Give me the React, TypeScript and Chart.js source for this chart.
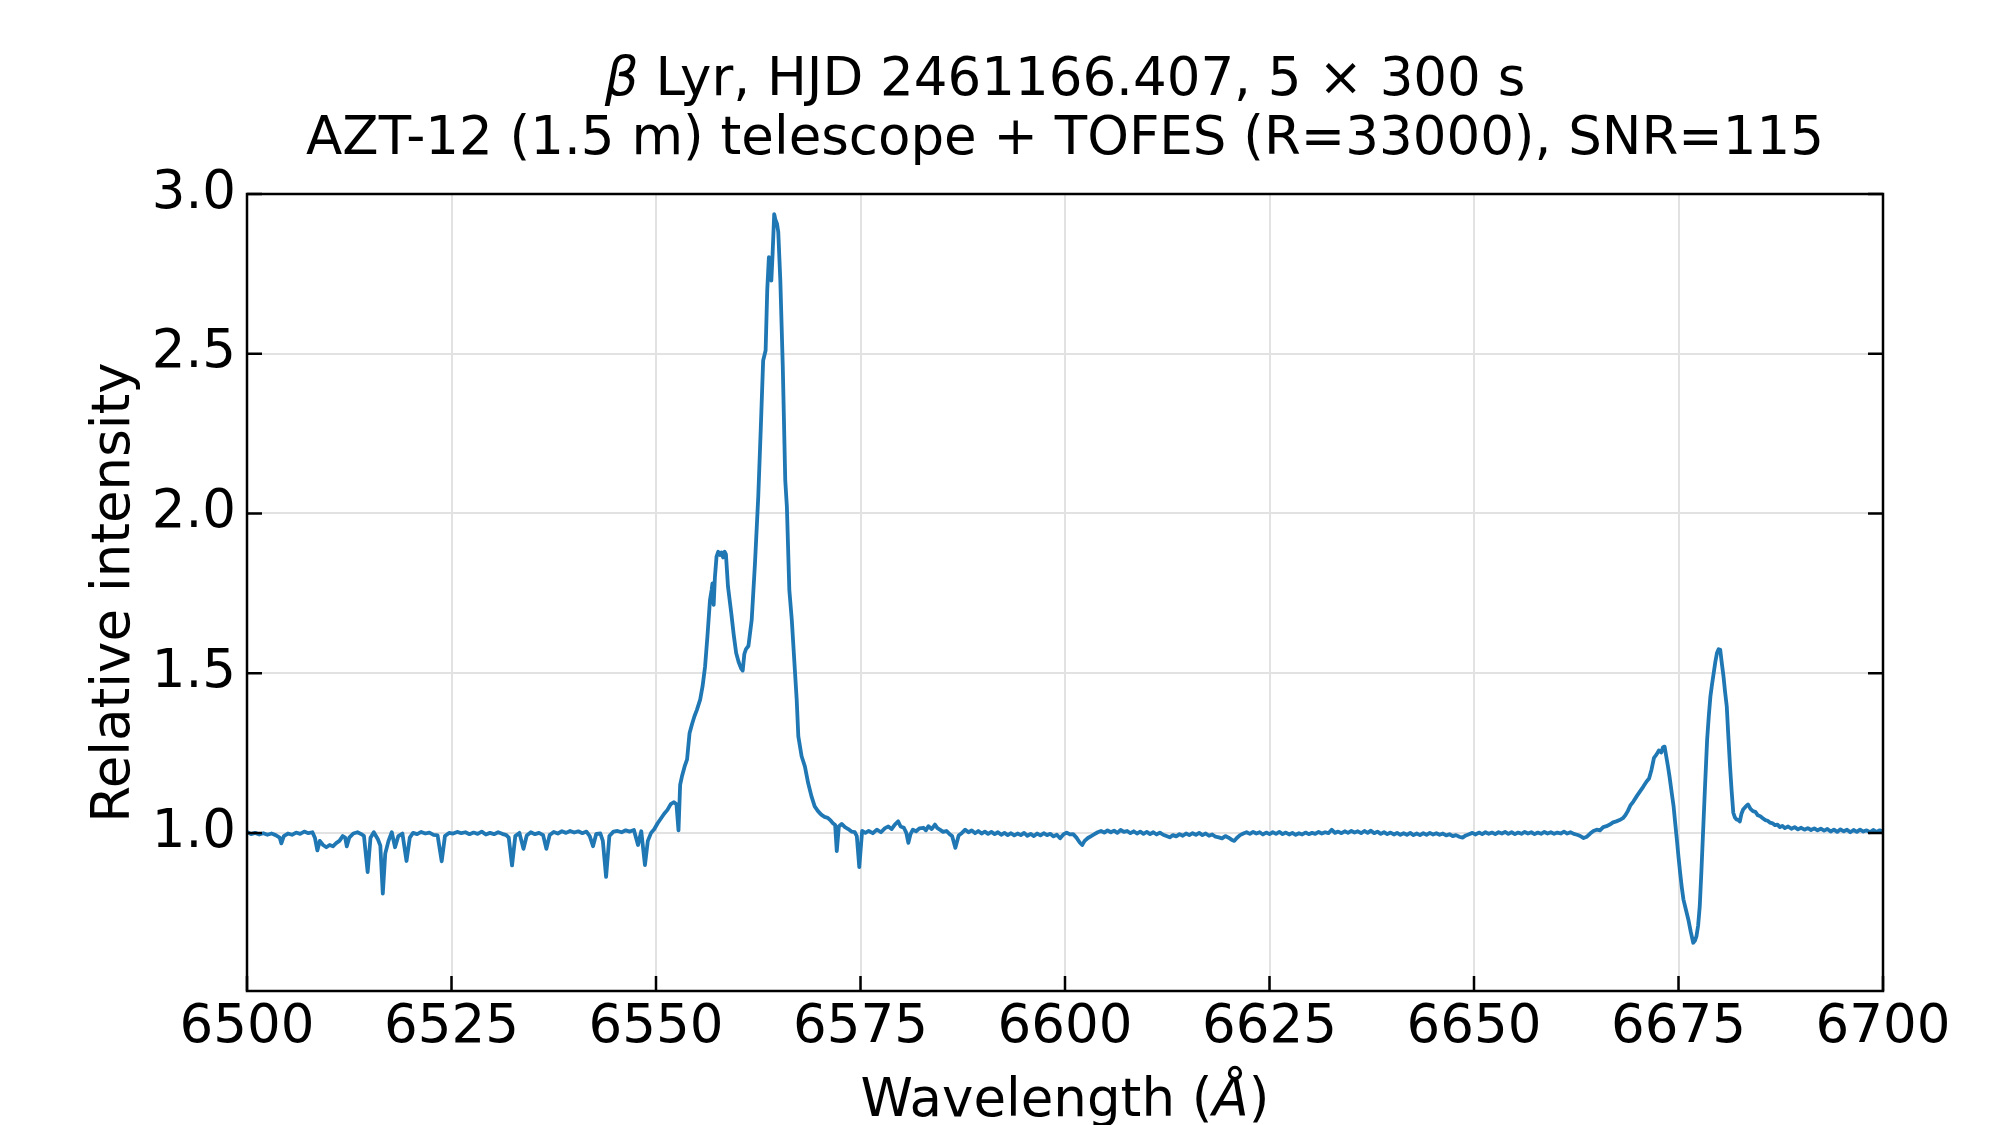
import React, { useEffect, useRef } from "react";
import { Chart, registerables } from "chart.js";

Chart.register(...registerables);

// ---------- text ----------
const titleLine1 = [
  { text: "β", italic: true },
  { text: " Lyr, HJD 2461166.407, 5 × 300 s", italic: false },
];
const titleLine2 = [{ text: "AZT-12 (1.5 m) telescope + TOFES (R=33000), SNR=115", italic: false }];
const xLabel = [
  { text: "Wavelength (", italic: false },
  { text: "Å", italic: true },
  { text: ")", italic: false },
];
const yLabel = "Relative intensity";

// ---------- ticks ----------
const xTicks = [6500, 6525, 6550, 6575, 6600, 6625, 6650, 6675, 6700];
const yTicks = [1.0, 1.5, 2.0, 2.5, 3.0];

// ---------- spectrum ----------
const wavelength = [
  6500.0, 6500.5, 6501.0, 6501.5, 6502.0, 6502.5, 6503.0, 6503.5, 6504.0, 6504.2,
  6504.5, 6505.0, 6505.5, 6506.0, 6506.5, 6507.0, 6507.5, 6508.0, 6508.3, 6508.6,
  6508.9, 6509.3, 6509.7, 6510.1, 6510.5, 6510.9, 6511.3, 6511.7, 6512.0, 6512.2,
  6512.5, 6513.0, 6513.5, 6514.0, 6514.3, 6514.75, 6515.1, 6515.5, 6516.0, 6516.3,
  6516.6, 6516.9, 6517.3, 6517.7, 6518.1, 6518.5, 6519.0, 6519.5, 6519.9, 6520.3,
  6520.8, 6521.3, 6521.8, 6522.3, 6522.8, 6523.3, 6523.8, 6524.2, 6524.7, 6525.2,
  6525.7, 6526.2, 6526.7, 6527.2, 6527.7, 6528.2, 6528.7, 6529.2, 6529.7, 6530.2,
  6530.7, 6531.2, 6531.7, 6532.0, 6532.4, 6532.8, 6533.3, 6533.8, 6534.2, 6534.7,
  6535.2, 6535.7, 6536.2, 6536.6, 6537.0, 6537.5, 6538.0, 6538.5, 6539.0, 6539.5,
  6540.0, 6540.5, 6541.0, 6541.5, 6541.9, 6542.3, 6542.7, 6543.2, 6543.5, 6543.9,
  6544.3, 6544.8, 6545.3, 6545.8, 6546.3, 6546.8, 6547.3, 6547.8, 6548.2, 6548.65,
  6549.0, 6549.4, 6549.8, 6550.2, 6550.6, 6551.0, 6551.4, 6551.8, 6552.2, 6552.5,
  6552.75, 6552.95, 6553.2, 6553.5, 6553.8, 6554.1, 6554.4, 6554.7, 6555.0, 6555.4,
  6555.7, 6556.0, 6556.3, 6556.6, 6556.8, 6556.9, 6557.05, 6557.2, 6557.4, 6557.6,
  6557.8, 6558.0, 6558.2, 6558.4, 6558.55, 6558.8, 6559.0, 6559.2, 6559.5, 6559.8,
  6560.1, 6560.4, 6560.6, 6560.8, 6561.0, 6561.3, 6561.7, 6562.1, 6562.5, 6562.8,
  6563.1, 6563.4, 6563.6, 6563.8, 6563.95, 6564.1, 6564.25, 6564.45, 6564.6, 6564.8,
  6564.95, 6565.2, 6565.5, 6565.8, 6566.0, 6566.3, 6566.6, 6567.0, 6567.2, 6567.4,
  6567.8, 6568.2, 6568.6, 6569.0, 6569.4, 6569.8, 6570.2, 6570.6, 6571.0, 6571.3,
  6571.6, 6571.9, 6572.1, 6572.35, 6572.7, 6573.1, 6573.5, 6573.9, 6574.3, 6574.55,
  6574.85, 6575.2, 6575.6, 6576.0, 6576.5, 6577.0, 6577.5, 6578.0, 6578.4, 6578.8,
  6579.2, 6579.6, 6579.9, 6580.3, 6580.6, 6580.85, 6581.1, 6581.4, 6581.8, 6582.2,
  6582.7, 6583.0, 6583.3, 6583.7, 6584.1, 6584.4, 6584.7, 6585.1, 6585.5, 6585.9,
  6586.2, 6586.6, 6587.0, 6587.4, 6587.8, 6588.2, 6588.6, 6589.0, 6589.4, 6589.8,
  6590.2, 6590.6, 6591.0, 6591.4, 6591.8, 6592.2, 6592.6, 6593.0, 6593.4, 6593.8,
  6594.2, 6594.6, 6595.0, 6595.4, 6595.8, 6596.2, 6596.6, 6597.0, 6597.4, 6597.8,
  6598.2, 6598.6, 6599.0, 6599.4, 6599.8, 6600.2, 6600.6, 6601.0, 6601.4, 6601.8,
  6602.1, 6602.4, 6602.8, 6603.2, 6603.6, 6604.0, 6604.4, 6604.8, 6605.2, 6605.6,
  6606.0, 6606.4, 6606.8, 6607.2, 6607.6, 6608.0, 6608.4, 6608.8, 6609.2, 6609.6,
  6610.0, 6610.4, 6610.8, 6611.2, 6611.6, 6612.0, 6612.4, 6612.8, 6613.2, 6613.6,
  6614.0, 6614.4, 6614.8, 6615.2, 6615.6, 6616.0, 6616.4, 6616.8, 6617.2, 6617.6,
  6618.0, 6618.4, 6618.8, 6619.2, 6619.6, 6620.0, 6620.4, 6620.7, 6621.0, 6621.4,
  6621.8, 6622.2, 6622.6, 6623.0, 6623.4, 6623.8, 6624.2, 6624.6, 6625.0, 6625.4,
  6625.8, 6626.2, 6626.6, 6627.0, 6627.4, 6627.8, 6628.2, 6628.6, 6629.0, 6629.4,
  6629.8, 6630.2, 6630.6, 6631.0, 6631.4, 6631.8, 6632.2, 6632.6, 6633.0, 6633.4,
  6633.8, 6634.2, 6634.6, 6635.0, 6635.4, 6635.8, 6636.2, 6636.6, 6637.0, 6637.4,
  6637.8, 6638.2, 6638.6, 6639.0, 6639.4, 6639.8, 6640.2, 6640.6, 6641.0, 6641.4,
  6641.8, 6642.2, 6642.6, 6643.0, 6643.4, 6643.8, 6644.2, 6644.6, 6645.0, 6645.4,
  6645.8, 6646.2, 6646.6, 6647.0, 6647.4, 6647.8, 6648.2, 6648.6, 6649.0, 6649.4,
  6649.8, 6650.2, 6650.6, 6651.0, 6651.4, 6651.8, 6652.2, 6652.6, 6653.0, 6653.4,
  6653.8, 6654.2, 6654.6, 6655.0, 6655.4, 6655.8, 6656.2, 6656.6, 6657.0, 6657.4,
  6657.8, 6658.2, 6658.6, 6659.0, 6659.4, 6659.8, 6660.2, 6660.6, 6661.0, 6661.4,
  6661.8, 6662.2, 6662.6, 6663.0, 6663.4, 6663.8, 6664.2, 6664.6, 6665.0, 6665.4,
  6665.8, 6666.2, 6666.6, 6667.0, 6667.4, 6667.8, 6668.2, 6668.5, 6668.8, 6669.1,
  6669.5, 6669.9, 6670.3, 6670.7, 6671.1, 6671.4, 6671.7, 6672.0, 6672.3, 6672.6,
  6672.9, 6673.1, 6673.3, 6673.5, 6673.7, 6673.9, 6674.2, 6674.4, 6674.6, 6674.8,
  6675.0, 6675.2, 6675.4, 6675.6, 6675.9, 6676.2, 6676.5, 6676.8, 6677.0, 6677.2,
  6677.4, 6677.6, 6677.8, 6678.0, 6678.25, 6678.5, 6678.7, 6678.9, 6679.1, 6679.3,
  6679.5, 6679.7, 6679.9, 6680.1, 6680.3, 6680.5, 6680.7, 6680.9, 6681.1, 6681.3,
  6681.5, 6681.7, 6681.9, 6682.1, 6682.3, 6682.5, 6682.7, 6682.9, 6683.2, 6683.5,
  6683.8, 6684.1, 6684.4, 6684.7, 6685.0, 6685.3, 6685.6, 6685.9, 6686.2, 6686.5,
  6686.8, 6687.1, 6687.4, 6687.7, 6688.0, 6688.4, 6688.8, 6689.2, 6689.6, 6690.0,
  6690.4, 6690.8, 6691.2, 6691.6, 6692.0, 6692.4, 6692.8, 6693.2, 6693.6, 6694.0,
  6694.4, 6694.8, 6695.2, 6695.6, 6696.0, 6696.4, 6696.8, 6697.2, 6697.6, 6698.0,
  6698.4, 6698.8, 6699.2, 6699.6, 6700.0,
];

const intensity = [
  1.003, 0.996, 1.000, 0.995, 0.999, 0.994, 0.998, 0.993, 0.985, 0.967,
  0.990, 0.998, 0.994, 1.001, 0.997, 1.004, 0.999, 1.002, 0.985, 0.945,
  0.975, 0.962, 0.955, 0.962, 0.958, 0.968, 0.975, 0.990, 0.985, 0.958,
  0.985, 0.998, 1.002, 0.996, 0.990, 0.877, 0.985, 1.002, 0.980, 0.960,
  0.810, 0.935, 0.975, 1.002, 0.955, 0.990, 0.998, 0.912, 0.985, 1.000,
  0.996, 1.003, 0.998, 1.001, 0.994, 0.992, 0.911, 0.990, 1.000, 0.998,
  1.003, 0.999, 1.002, 0.996, 1.001, 0.997, 1.004, 0.995, 1.000, 0.996,
  1.002, 0.997, 0.993, 0.985, 0.898, 0.990, 1.000, 0.950, 0.992, 1.002,
  0.996, 1.000, 0.993, 0.950, 0.993, 1.003, 0.998, 1.005, 1.000, 1.006,
  1.001, 1.005, 0.999, 1.004, 0.990, 0.958, 0.997, 0.998, 0.975, 0.862,
  0.990, 1.004, 1.006, 1.002, 1.008, 1.004, 1.009, 0.962, 1.005, 0.899,
  0.975, 1.000, 1.012, 1.030, 1.045, 1.060, 1.072, 1.090, 1.096, 1.090,
  1.008, 1.150, 1.180, 1.208, 1.230, 1.312, 1.340, 1.365, 1.385, 1.417,
  1.460, 1.521, 1.620, 1.729, 1.760, 1.781, 1.714, 1.800, 1.865, 1.880,
  1.870, 1.878, 1.862, 1.880, 1.872, 1.771, 1.730, 1.688, 1.620, 1.563,
  1.535, 1.515, 1.508, 1.560, 1.575, 1.585, 1.667, 1.844, 2.052, 2.260,
  2.479, 2.510, 2.700, 2.802, 2.740, 2.729, 2.810, 2.937, 2.920, 2.906,
  2.880, 2.729, 2.458, 2.104, 2.021, 1.760, 1.667, 1.500, 1.417, 1.302,
  1.240, 1.208, 1.156, 1.115, 1.083, 1.068, 1.057, 1.050, 1.047, 1.040,
  1.031, 1.025, 0.943, 1.020, 1.028, 1.018, 1.012, 1.004, 1.002, 0.990,
  0.893, 1.006, 1.000, 1.006, 0.999, 1.010, 1.002, 1.015, 1.020, 1.012,
  1.026, 1.036, 1.020, 1.016, 1.000, 0.969, 0.995, 1.010, 1.005, 1.014,
  1.016, 1.008, 1.021, 1.012, 1.026, 1.015, 1.010, 1.003, 1.006, 0.996,
  0.990, 0.953, 0.992, 1.000, 1.010, 1.002, 1.008, 0.999, 1.006, 0.998,
  1.004, 0.997, 1.003, 0.996, 1.002, 0.994, 1.000, 0.993, 0.999, 0.992,
  0.998, 0.993, 1.000, 0.991, 0.997, 0.990, 0.998, 0.992, 0.999, 0.993,
  0.997, 0.989, 0.994, 0.983, 0.995, 1.001, 0.995, 0.996, 0.985, 0.970,
  0.962, 0.975, 0.984, 0.990, 0.996, 1.002, 1.006, 1.001, 1.008, 1.002,
  1.007, 1.000, 1.009, 1.003, 1.006, 0.999, 1.005, 0.998, 1.004, 0.997,
  1.003, 0.996, 1.002, 0.995, 1.001, 0.994, 0.990, 0.986, 0.993, 0.989,
  0.996, 0.991, 0.998, 0.993, 0.999, 0.994, 1.000, 0.993, 0.998, 0.991,
  0.995, 0.988, 0.986, 0.983, 0.990, 0.985, 0.978, 0.975, 0.984, 0.993,
  0.998, 1.002, 0.997, 1.003, 0.998, 1.002, 0.995, 1.001, 0.996, 1.002,
  0.997, 1.003, 0.996, 1.001, 0.995, 1.000, 0.994, 0.999, 0.995, 1.001,
  0.996, 1.000, 0.997, 1.003, 0.998, 1.002, 0.999, 1.010, 1.000, 1.004,
  0.999, 1.005, 1.000, 1.006, 1.001, 1.005, 0.999, 1.006, 1.000, 1.007,
  0.999, 1.004, 0.997, 1.002, 0.996, 1.001, 0.995, 1.000, 0.994, 0.999,
  0.994, 1.000, 0.993, 0.998, 0.993, 0.999, 0.994, 1.000, 0.995, 0.999,
  0.994, 0.998, 0.992, 0.996, 0.990, 0.993, 0.988, 0.985, 0.992, 0.996,
  1.000, 0.995, 1.001, 0.996, 1.002, 0.997, 1.001, 0.996, 1.002, 0.998,
  1.003, 0.997, 1.002, 0.996, 1.001, 0.997, 1.003, 0.998, 1.002, 0.996,
  1.001, 0.997, 1.003, 0.998, 1.002, 0.997, 1.001, 0.998, 1.004, 0.998,
  1.002, 0.997, 0.994, 0.990, 0.984, 0.988, 0.998, 1.006, 1.010, 1.008,
  1.018, 1.021, 1.026, 1.033, 1.036, 1.040, 1.046, 1.055, 1.068, 1.085,
  1.099, 1.115, 1.130, 1.145, 1.161, 1.170, 1.198, 1.235, 1.245, 1.258,
  1.252, 1.268, 1.270, 1.240, 1.210, 1.177, 1.120, 1.083, 1.030, 0.979,
  0.925, 0.875, 0.830, 0.792, 0.760, 0.729, 0.690, 0.656, 0.662, 0.677,
  0.710, 0.771, 0.880, 1.000, 1.150, 1.292, 1.365, 1.427, 1.465, 1.500,
  1.535, 1.563, 1.575, 1.573, 1.530, 1.490, 1.440, 1.396, 1.300, 1.208,
  1.130, 1.063, 1.048, 1.042, 1.040, 1.036, 1.060, 1.073, 1.082, 1.089,
  1.075, 1.068, 1.066, 1.055, 1.052, 1.046, 1.040, 1.038, 1.032, 1.030,
  1.024, 1.026, 1.018, 1.022, 1.015, 1.020, 1.013, 1.018, 1.011, 1.016,
  1.010, 1.015, 1.009, 1.014, 1.008, 1.013, 1.007, 1.012, 1.004, 1.010,
  1.003, 1.011, 1.005, 1.010, 1.002, 1.009, 1.003, 1.010, 1.004, 1.008,
  1.002, 1.009, 1.003, 1.008, 1.004,
];

const FONT = '"DejaVu Sans", "Liberation Sans", sans-serif';
const FONT_SIZE = 53;
const LINE_COLOR = "#1f77b4";
const GRID_COLOR = "#e2e2e2";

type Seg = { text: string; italic: boolean };

function drawSegments(ctx: CanvasRenderingContext2D, segs: Seg[], cx: number, y: number) {
  const fontFor = (s: Seg) => `${s.italic ? "italic " : ""}${FONT_SIZE}px ${FONT}`;
  let total = 0;
  const widths = segs.map((s) => {
    ctx.font = fontFor(s);
    const w = ctx.measureText(s.text).width;
    total += w;
    return w;
  });
  let x = cx - total / 2;
  ctx.textAlign = "left";
  ctx.textBaseline = "alphabetic";
  segs.forEach((s, i) => {
    ctx.font = fontFor(s);
    ctx.fillText(s.text, x, y);
    x += widths[i];
  });
}

const mplPlugin = {
  id: "mplStyle",
  afterDatasetsDraw(chart: any) {
    const { ctx, chartArea: a, scales } = chart;
    ctx.save();
    ctx.strokeStyle = "#000";
    ctx.lineWidth = 2.5;
    ctx.lineCap = "butt";
    const tickLen = 15;
    ctx.beginPath();
    xTicks.forEach((v) => {
      const px = scales.x.getPixelForValue(v);
      ctx.moveTo(px, a.bottom);
      ctx.lineTo(px, a.bottom - tickLen);
    });
    yTicks.forEach((v) => {
      const py = scales.y.getPixelForValue(v);
      ctx.moveTo(a.left, py);
      ctx.lineTo(a.left + tickLen, py);
      ctx.moveTo(a.right, py);
      ctx.lineTo(a.right - tickLen, py);
    });
    ctx.stroke();
    ctx.lineWidth = 2.5;
    ctx.strokeRect(a.left, a.top, a.right - a.left, a.bottom - a.top);
    ctx.restore();
  },
  afterDraw(chart: any) {
    const { ctx, chartArea: a } = chart;
    const cx = (a.left + a.right) / 2;
    ctx.save();
    ctx.fillStyle = "#000";
    drawSegments(ctx, titleLine1, cx, 95);
    drawSegments(ctx, titleLine2, cx, 154);
    drawSegments(ctx, xLabel, cx, 1116);
    ctx.translate(129, (a.top + a.bottom) / 2);
    ctx.rotate(-Math.PI / 2);
    ctx.font = `${FONT_SIZE}px ${FONT}`;
    ctx.textAlign = "center";
    ctx.textBaseline = "alphabetic";
    ctx.fillText(yLabel, 0, 0);
    ctx.restore();
  },
};

export default function App() {
  const canvasRef = useRef<HTMLCanvasElement | null>(null);

  useEffect(() => {
    const canvas = canvasRef.current;
    if (!canvas) return;
    Chart.defaults.font.family = FONT;
    const points = wavelength.map((x, i) => ({ x, y: intensity[i] }));
    const chart = new Chart(canvas, {
      type: "line",
      data: {
        datasets: [
          {
            data: points,
            borderColor: LINE_COLOR,
            borderWidth: 3.8,
            pointRadius: 0,
            tension: 0,
            fill: false,
            borderJoinStyle: "round",
            borderCapStyle: "round",
          },
        ],
      },
      options: {
        responsive: false,
        animation: false,
        devicePixelRatio: 1,
        parsing: false,
        normalized: true,
        layout: { padding: { top: 194, right: 120, left: 0, bottom: 0 } },
        plugins: {
          legend: { display: false },
          tooltip: { enabled: false },
          title: { display: false },
        },
        scales: {
          x: {
            type: "linear",
            min: 6500,
            max: 6700,
            afterBuildTicks: (s: any) => {
              s.ticks = xTicks.map((v) => ({ value: v }));
            },
            afterFit: (s: any) => {
              s.height = 134;
            },
            grid: { color: GRID_COLOR, lineWidth: 2, drawTicks: false },
            border: { display: false },
            ticks: {
              color: "#000",
              font: { family: FONT, size: FONT_SIZE },
              padding: 5,
              maxRotation: 0,
              autoSkip: false,
              callback: (v: any) => String(v),
            },
          },
          y: {
            type: "linear",
            min: 0.505,
            max: 3.0,
            afterBuildTicks: (s: any) => {
              s.ticks = yTicks.map((v) => ({ value: v }));
            },
            afterFit: (s: any) => {
              s.width = 247;
            },
            grid: { color: GRID_COLOR, lineWidth: 2, drawTicks: false },
            border: { display: false },
            ticks: {
              color: "#000",
              font: { family: FONT, size: FONT_SIZE },
              padding: 11,
              autoSkip: false,
              callback: (v: any) => Number(v).toFixed(1),
            },
          },
        },
      },
      plugins: [mplPlugin],
    });
    return () => chart.destroy();
  }, []);

  return (
    <div
      style={{
        position: "fixed",
        left: 0,
        top: 0,
        width: 2003,
        height: 1125,
        background: "#fff",
      }}
    >
      <canvas ref={canvasRef} width={2003} height={1125} style={{ width: 2003, height: 1125, display: "block" }} />
    </div>
  );
}
